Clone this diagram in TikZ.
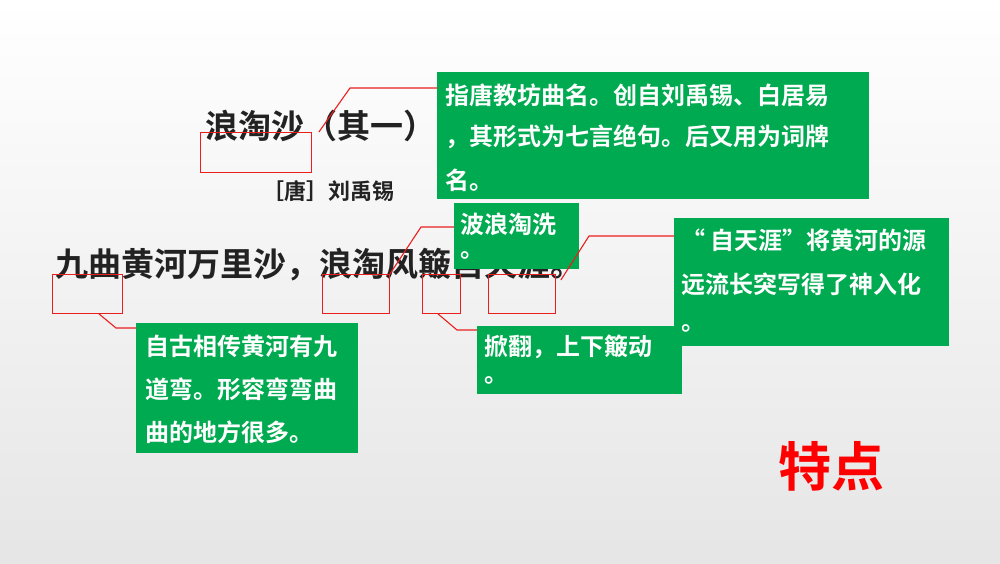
\documentclass[tikz,border=0pt]{standalone}
\usepackage{fontspec}
\newfontfamily\cjk{Noto Sans CJK SC}[BoldFont={* Bold}]
\definecolor{gbox}{RGB}{0,170,80}
\definecolor{ink}{RGB}{34,34,34}
\definecolor{rl}{RGB}{235,30,30}
\begin{document}
\begin{tikzpicture}[x=1pt,y=-1pt,
  gb/.style={fill=gbox,draw=gbox,anchor=north west,inner sep=0pt},
  gt/.style={anchor=west,text=white,font=\cjk\bfseries\fontsize{24}{24}\selectfont,inner sep=0pt},
  rb/.style={draw=rl,line width=0.9pt,anchor=north west,inner sep=0pt},
  rline/.style={draw=rl,line width=1.1pt},
  ptxt/.style={text=ink,font=\cjk\bfseries,inner sep=0pt}]
\shade[top color=white,bottom color=black!10] (0,0) rectangle (1000,563);
\useasboundingbox (0,0) rectangle (1000,563);
% poem text
\node[ptxt,anchor=west,font=\cjk\bfseries\fontsize{33}{33}\selectfont] (title) at (205,126) {浪淘沙（其一）};
\node[ptxt,anchor=west,font=\cjk\bfseries\fontsize{22}{22}\selectfont] (author) at (262,191) {［唐］刘禹锡};
\node[ptxt,anchor=west,font=\cjk\bfseries\fontsize{33}{33}\selectfont] (verse) at (55,265) {九曲黄河万里沙，浪淘风簸自天涯。};
% red boxes
\node[rb,minimum width=111,minimum height=40] (r1) at (200,132) {};
\node[rb,minimum width=70,minimum height=39] (r2) at (52,274) {};
\node[rb,minimum width=67,minimum height=39] (r3) at (322,274) {};
\node[rb,minimum width=38,minimum height=39] (r4) at (422,274) {};
\node[rb,minimum width=67,minimum height=39] (r5) at (488,274) {};
% green boxes
\node[gb,minimum width=431,minimum height=126] (g1) at (437,72) {};
\node[gt] at (445,95) {指唐教坊曲名。创自刘禹锡、白居易};
\node[gt] at (445,137) {，其形式为七言绝句。后又用为词牌};
\node[gt] at (445,180) {名。};
\node[gb,minimum width=124,minimum height=65] (g2) at (454,203) {};
\node[gt] at (460,224) {波浪淘洗};
\node[gt] at (460,255) {。};
\node[gb,minimum width=274,minimum height=127] (g3) at (674,218) {};
\node[gt] at (681,240) {“ 自天涯”将黄河的源};
\node[gt] at (681,284) {远流长突写得了神入化};
\node[gt] at (681,328) {。};
\node[gb,minimum width=221,minimum height=129] (g4) at (136,323) {};
\node[gt] at (145,346) {自古相传黄河有九};
\node[gt] at (145,389) {道弯。形容弯弯曲};
\node[gt] at (145,432) {曲的地方很多。};
\node[gb,minimum width=204,minimum height=67] (g5) at (477,326) {};
\node[gt] at (484,347) {掀翻，上下簸动};
\node[gt] at (484,380) {。};
\node[text=red,font=\cjk\bfseries\fontsize{53}{53}\selectfont,inner sep=0pt] (tedian) at (831,466) {特点};
% connectors
\coordinate (k1) at (350,88);
\coordinate (k2) at (421,227);
\coordinate (k3) at (457,330);
\coordinate (k4) at (589,236);
\coordinate (k5) at (116,328);
\draw[rline] ([xshift=7pt]r1.north east) -- (k1) -- (k1 -| g1.west);
\draw[rline] (r3.north east) -- (k2) -- (k2 -| g2.west);
\draw[rline] ([xshift=16pt]r4.south west) -- (k3) -- (k3 -| g5.west);
\draw[rline] ([xshift=5pt,yshift=-6pt]r5.north east) -- (k4) -- (k4 -| g3.west);
\draw[rline] ([xshift=47pt]r2.south west) -- (k5) -- (k5 -| g4.west);
\end{tikzpicture}
\end{document}
